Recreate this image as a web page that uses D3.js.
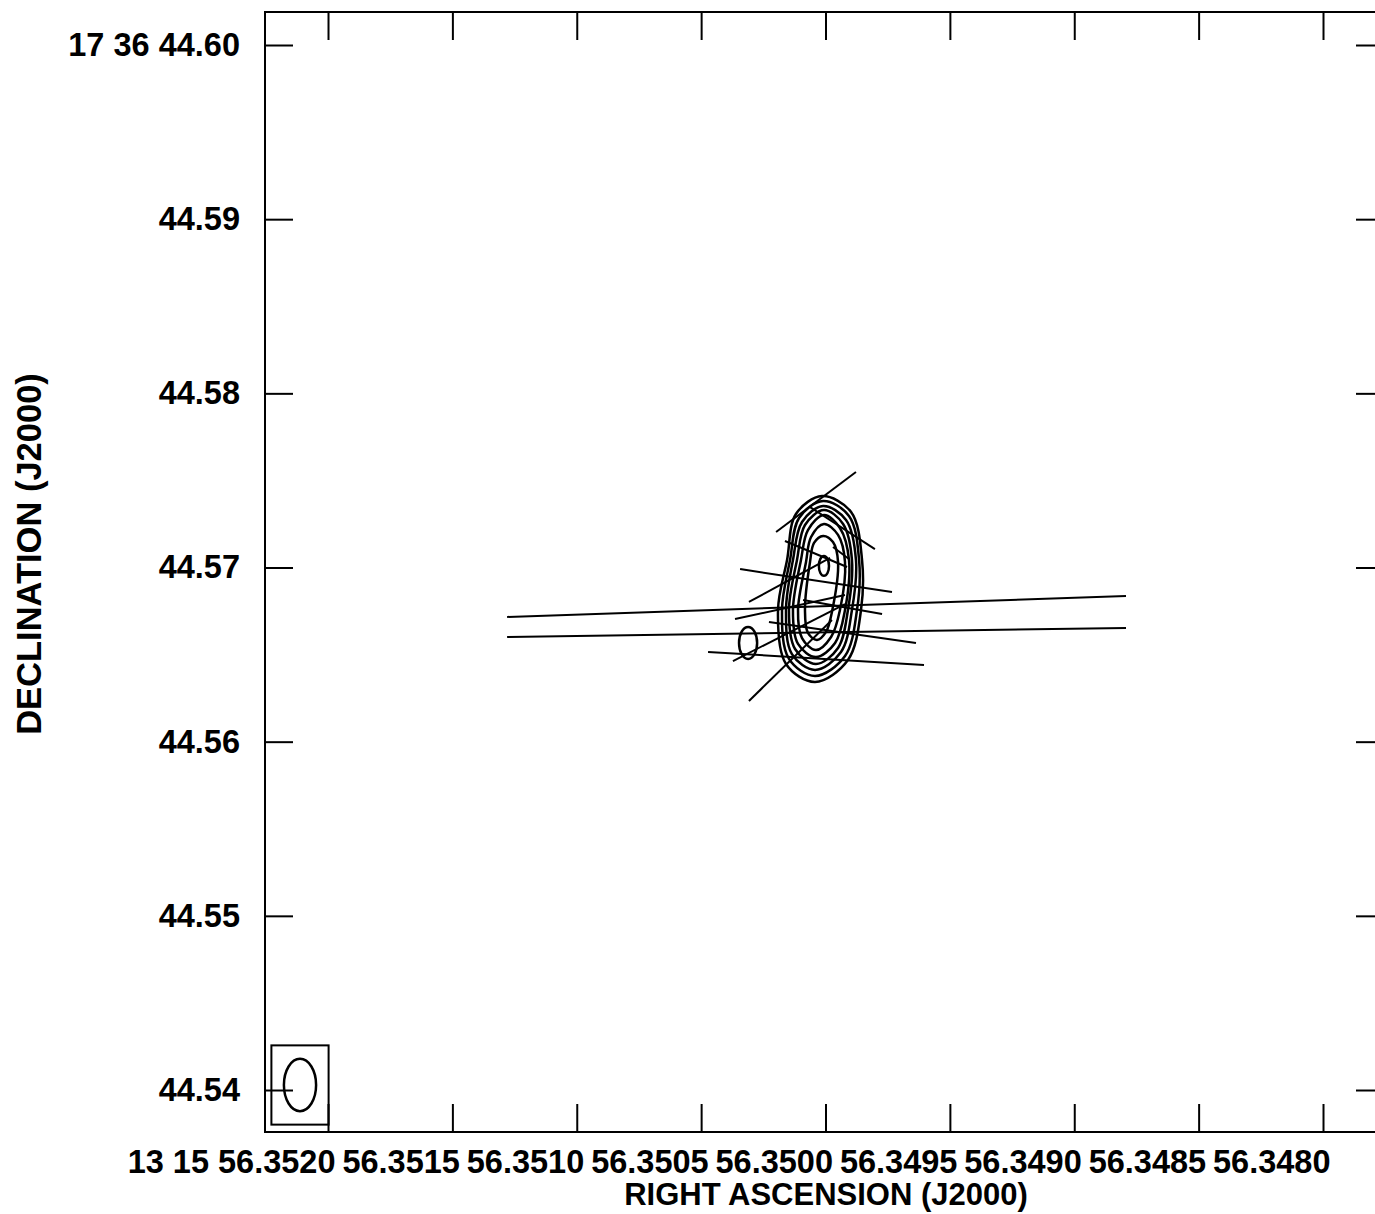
<!DOCTYPE html>
<html>
<head>
<meta charset="utf-8">
<script src="https://cdn.jsdelivr.net/npm/d3@7"></script>
<style>
  html, body { margin: 0; padding: 0; background: #fff; }
  svg text { font-family: "Liberation Sans", Arial, sans-serif; font-weight: bold; fill: #000; }
</style>
</head>
<body>
<svg id="map" width="1375" height="1214"></svg>
<script>
// ---------- Data ---------- //

// reference position of the offsets (RA 13 15 56.3500, Dec +17 36 44.570)
var RA0 = 56.3500;
var DEC0 = 44.570;
var DEC_DEG = 17.6124;

// axis ticks
var raTicks = [56.3520, 56.3515, 56.3510, 56.3505, 56.3500, 56.3495, 56.3490, 56.3485, 56.3480];
var raTickLabels = ["13 15 56.3520", "56.3515", "56.3510", "56.3505", "56.3500", "56.3495", "56.3490", "56.3485", "56.3480"];
var decTicks = [44.60, 44.59, 44.58, 44.57, 44.56, 44.55, 44.54];
var decTickLabels = ["17 36 44.60", "44.59", "44.58", "44.57", "44.56", "44.55", "44.54"];

// contour levels, outer to inner: [west offset mas, north offset mas]
var contour1 = [[-0.20,4.10],[1.47,3.19],[2.10,0.43],[2.04,-2.44],[1.29,-5.31],[-0.60,-6.57],[-2.27,-5.54],[-2.73,-2.44],[-2.21,0.43],[-1.70,3.07]];
var contour2 = [[-0.14,3.82],[1.35,2.96],[1.93,0.43],[1.81,-2.44],[1.12,-5.08],[-0.60,-6.23],[-2.10,-5.25],[-2.50,-2.44],[-2.04,0.43],[-1.52,2.84]];
var contour3 = [[-0.14,3.53],[1.18,2.73],[1.75,0.43],[1.52,-2.44],[0.89,-4.85],[-0.60,-5.88],[-1.93,-4.97],[-2.27,-2.44],[-1.87,0.43],[-1.35,2.61]];
var contour4 = [[-0.09,3.30],[1.01,2.50],[1.52,0.43],[1.29,-2.44],[0.72,-4.62],[-0.55,-5.54],[-1.75,-4.68],[-2.10,-2.44],[-1.64,0.43],[-1.18,2.44]];
var contour5 = [[-0.09,3.01],[0.83,2.27],[1.35,0.43],[1.12,-2.44],[0.55,-4.33],[-0.55,-5.14],[-1.58,-4.39],[-1.87,-2.44],[-1.41,0.43],[-1.01,2.15]];
var contour6 = [[-0.09,2.50],[0.72,1.87],[1.12,0.32],[0.83,-2.44],[0.32,-3.99],[-0.55,-4.74],[-1.35,-4.05],[-1.58,-2.44],[-1.12,0.32],[-0.83,1.75]];
var contour7 = [[-0.14,1.81],[0.43,1.46],[0.72,0.32],[0.37,-2.55],[0.03,-3.70],[-0.49,-4.16],[-1.01,-3.76],[-1.18,-2.44],[-0.89,0.32],[-0.66,1.41]];
var contours = [contour1, contour2, contour3, contour4, contour5, contour6, contour7];

// small closed contours: [west mas, north mas, semi-axis E-W mas, semi-axis N-S mas]
var blobs = [[-0.09, 0.09, 0.29, 0.57], [-4.45, -4.33, 0.52, 0.92]];

// polarisation vectors: [x1, y1, x2, y2] offsets in mas
var vectors = [
  [-2.84, 2.04, 1.75, 5.48],
  [-0.89, 3.47, 2.84, 1.06],
  [-2.33, 1.52, 1.24, 0.03],
  [0.43, 1.18, 1.35, 0.49],
  [-4.91, -0.09, 3.82, -1.41],
  [-4.40, -1.98, 0.26, 0.55],
  [-5.20, -2.96, 1.12, -1.58],
  [-1.29, -1.87, 3.25, -2.67],
  [-3.25, -3.13, 5.20, -4.33],
  [-5.32, -5.37, 1.12, -2.10],
  [-6.75, -4.85, 5.66, -5.60],
  [-4.40, -7.66, 0.37, -3.01],
  [-18.30, -2.84, 17.27, -1.64],
  [-18.30, -3.99, 17.27, -3.47]
];

// restoring beam (mas)
var beamMajor = 3.0;
var beamMinor = 1.85;

// ---------- Canvas ---------- //

(function() {
  var svg = d3.select("#map");
  var mLeft = 265, mTop = 12, mRight = 1384, mBottom = 1132;
  var tick = 28;

  var x = d3.scaleLinear().domain([56.3522533, 56.3477548]).range([mLeft, mRight]);
  var y = d3.scaleLinear().domain([44.537589, 44.601895]).range([mBottom, mTop]);

  var cosDec = Math.cos(DEC_DEG * Math.PI / 180);
  function px(dx) { return x(RA0 - dx / 1000 / (15 * cosDec)); }
  function py(dy) { return y(DEC0 + dy / 1000); }

  // --- frame --- //
  svg.append("rect")
      .attr("x", mLeft).attr("y", mTop)
      .attr("width", mRight - mLeft).attr("height", mBottom - mTop)
      .attr("fill", "none").attr("stroke", "#000").attr("stroke-width", 2);

  // --- axes --- //
  var xb = svg.append("g").attr("transform", "translate(0," + mBottom + ")")
      .call(d3.axisBottom(x).tickValues(raTicks).tickSizeInner(-tick).tickSizeOuter(0).tickPadding(18)
          .tickFormat(function(d, i) { return raTickLabels[i]; }));
  xb.selectAll("text").attr("text-anchor", "end").attr("dx", 7).attr("font-size", "32.5px");

  svg.append("g").attr("transform", "translate(0," + mTop + ")")
      .call(d3.axisTop(x).tickValues(raTicks).tickSizeInner(-tick).tickSizeOuter(0).tickFormat(""));

  var yl = svg.append("g").attr("transform", "translate(" + mLeft + ",0)")
      .call(d3.axisLeft(y).tickValues(decTicks).tickSizeInner(-tick).tickSizeOuter(0).tickPadding(25)
          .tickFormat(function(d, i) { return decTickLabels[i]; }));
  yl.selectAll("text").attr("font-size", "32.5px");

  svg.append("g").attr("transform", "translate(" + mRight + ",0)")
      .call(d3.axisRight(y).tickValues(decTicks).tickSizeInner(-tick).tickSizeOuter(0).tickFormat(""));

  svg.selectAll(".domain").remove();
  svg.selectAll(".tick line").attr("stroke", "#000").attr("stroke-width", 2);

  // --- axis titles --- //
  svg.append("text")
      .attr("x", 826).attr("y", 1205)
      .attr("text-anchor", "middle").attr("font-size", "31px")
      .text("RIGHT ASCENSION (J2000)");

  svg.append("text")
      .attr("transform", "translate(41,554) rotate(-90)")
      .attr("text-anchor", "middle").attr("font-size", "34.5px")
      .text("DECLINATION (J2000)");

  // --- contours --- //
  var plot = svg.append("g");
  var contourLine = d3.line()
      .x(function(d) { return px(d[0]); })
      .y(function(d) { return py(d[1]); })
      .curve(d3.curveCatmullRomClosed.alpha(0.5));

  plot.selectAll("path.contour")
      .data(contours)
      .enter().append("path")
      .attr("class", "contour")
      .attr("d", contourLine)
      .attr("fill", "none").attr("stroke", "#000").attr("stroke-width", 2.5);

  plot.selectAll("ellipse.blob")
      .data(blobs)
      .enter().append("ellipse")
      .attr("cx", function(d) { return px(d[0]); })
      .attr("cy", function(d) { return py(d[1]); })
      .attr("rx", function(d) { return Math.abs(px(d[2]) - px(0)); })
      .attr("ry", function(d) { return Math.abs(py(d[3]) - py(0)); })
      .attr("fill", "none").attr("stroke", "#000").attr("stroke-width", 2.5);

  // --- vectors --- //
  plot.selectAll("line.vec")
      .data(vectors)
      .enter().append("line")
      .attr("x1", function(d) { return px(d[0]); })
      .attr("y1", function(d) { return py(d[1]); })
      .attr("x2", function(d) { return px(d[2]); })
      .attr("y2", function(d) { return py(d[3]); })
      .attr("stroke", "#000").attr("stroke-width", 2);

  // --- beam --- //
  var brx = Math.abs(px(beamMinor / 2) - px(0));
  var bry = Math.abs(py(beamMajor / 2) - py(0));
  var bcx = mLeft + 35, bcy = 1085;
  svg.append("rect")
      .attr("x", bcx - brx - 12.5).attr("y", bcy - bry - 13.5)
      .attr("width", 2 * brx + 25).attr("height", 2 * bry + 27)
      .attr("fill", "none").attr("stroke", "#000").attr("stroke-width", 2);
  svg.append("ellipse")
      .attr("cx", bcx).attr("cy", bcy).attr("rx", brx).attr("ry", bry)
      .attr("fill", "none").attr("stroke", "#000").attr("stroke-width", 2.5);
})();
</script>
</body>
</html>
